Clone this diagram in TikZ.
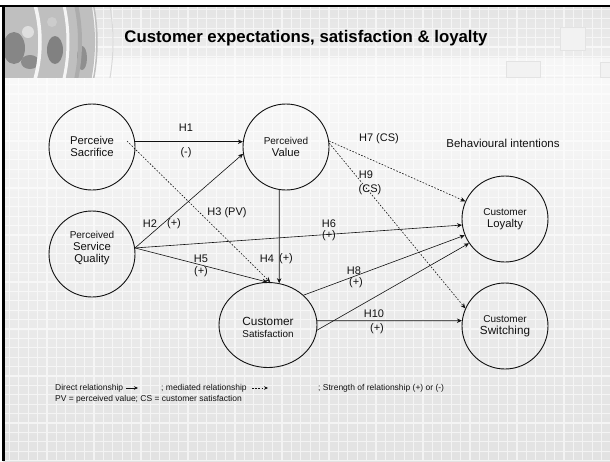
\documentclass[tikz,border=0pt]{standalone}
\usepackage{fontspec}
\setmainfont{Liberation Sans}
\usetikzlibrary{calc,arrows.meta,shapes.geometric}

\definecolor{bodytop}{HTML}{F8F8F8}
\definecolor{bodybot}{HTML}{E2E2E2}
\definecolor{headtop}{HTML}{E4E4E4}
\definecolor{headbot}{HTML}{F0F0F0}
\definecolor{ink}{HTML}{111111}

\tikzset{
  bubble/.style={circle, draw=ink, line width=0.9pt, minimum size=86pt, inner sep=0pt},
  oval/.style={ellipse, draw=ink, line width=0.9pt, minimum width=98pt, minimum height=85pt, inner sep=0pt},
  inner/.style={align=center, inner sep=0pt, text=ink},
  lbl/.style={inner sep=0pt, text=ink, font=\fontsize{11}{13}\selectfont},
  legendtext/.style={anchor=west, inner sep=0pt, text=ink, font=\fontsize{8.5}{10}\selectfont},
  direct/.style={draw=ink, line width=0.6pt, -{Stealth[length=5pt,width=4.5pt]}},
  mediated/.style={draw=ink, line width=0.6pt, dash pattern=on 1.6pt off 1.6pt, -{Stealth[length=5pt,width=4.5pt]}},
}
\newcommand{\smallline}{\fontsize{10}{12.5}\selectfont}
\newcommand{\bigline}{\fontsize{11.3}{13}\selectfont}

\begin{document}
\begin{tikzpicture}[x=1pt,y=-1pt]
\useasboundingbox (0,0) rectangle (610,461);

% ---- slide background ----
\fill[white] (0,0) rectangle (610,461);
\shade[top color=bodytop, bottom color=bodybot] (3,77) rectangle (610,461);
\shade[top color=headtop, bottom color=headbot] (3,7) rectangle (610,77);
\begin{scope}
  \clip (3,7) rectangle (610,461);
  \draw[white, opacity=0.6, line width=1.1pt] (0,0) grid[step=9.4pt] (610,461);
\end{scope}
\fill[white, opacity=0.5] (3,58) rectangle (610,77);

% faint tiles in the header
\filldraw[fill=gray!10, draw=gray!22, line width=0.6pt] (560,27) rectangle (585,50);
\filldraw[fill=gray!10, draw=gray!22, line width=0.6pt] (506,61) rectangle (540,77);
\filldraw[fill=gray!10, draw=gray!22, line width=0.6pt] (600,62) rectangle (612,77);

% header photo with arcs
\begin{scope}
  \clip (3,7) rectangle (125,77);
  \fill[gray!50] (-100,42) circle[radius=195];
  \fill[gray!75!black, opacity=0.6] (14,48) ellipse[x radius=11, y radius=16];
  \fill[gray!70!black, opacity=0.6] (55,50) ellipse[x radius=8, y radius=14];
  \fill[gray!75!black, opacity=0.5] (82,58) ellipse[x radius=5, y radius=12];
  \fill[gray!70!black, opacity=0.5] (30,62) ellipse[x radius=9, y radius=7];
  \fill[gray!25] (28,32) circle[radius=6];
  \fill[gray!40] (52,22) circle[radius=5];
  \draw[gray!8, line width=3.5pt] (-100,42) circle[radius=140];
  \draw[gray!8, line width=3pt] (-100,42) circle[radius=168];
  \draw[gray!65, line width=4pt] (-100,42) circle[radius=180];
  \draw[gray!50, line width=1.5pt] (-100,42) circle[radius=197];
  \draw[gray!30, line width=1pt] (-100,42) circle[radius=213];
\end{scope}

% frame
\draw[black, line width=2pt] (0,6) -- (610,6);
\draw[black, line width=2.5pt] (3.5,5) -- (3.5,461);

% title
\node[inner sep=0pt, font=\fontsize{16.8}{20}\bfseries\selectfont] (title) at (306,38)
  {Customer expectations, satisfaction \& loyalty};

% ---- constructs ----
\node[bubble] (ps)  at (92,147)  {};
\node[bubble] (pv)  at (286,147) {};
\node[bubble] (psq) at (92,254)  {};
\node[oval]   (cs)  at (268,325) {};
\node[bubble] (cl)  at (505,219) {};
\node[bubble] (csw) at (505,326) {};

\node[inner] (pst)  at (92,146.5)  {\bigline Perceive\\\bigline Sacrifice};
\node[inner] (pvt)  at (286,147)   {\smallline Perceived\\\bigline Value};
\node[inner] (psqt) at (92,248.5)  {\smallline Perceived\\\bigline Service\\\bigline Quality};
\node[inner] (cst)  at (268,327.5) {\fontsize{11.8}{13.5}\selectfont Customer\\\fontsize{9.9}{12}\selectfont Satisfaction};
\node[inner] (clt)  at (505,219.5) {\smallline Customer\\\bigline Loyalty};
\node[inner] (cswt) at (505,326.5) {\smallline Customer\\\fontsize{11.7}{13}\selectfont Switching};

% ---- hypotheses ----
\draw[direct] (ps.7) -- (pv.173);
\draw[direct] (psq.8) -- (pv.189);
\coordinate (h3s) at ($(ps.center)+(35,-6)$);
\draw[mediated] (h3s) -- (cs.87);
\draw[direct] (pv.261) -- (cs.75);
\draw[direct] (psq.8) -- (cs.91);
\draw[direct] (psq.8) -- (cl.188);
\draw[mediated] (pv.8) -- (cl.156);
\draw[mediated] (pv.5) -- (csw.156);
\draw[direct] (cs.40) -- (cl.202);
\draw[direct] (cs.-6) -- (cl.214);
\draw[direct] (cs.5) -- (csw.173);

\node[lbl] (h1)   at (186,128) {H1};
\node[lbl] (h1s)  at (186,153) {(-)};
\node[lbl] (h2)   at (150,224) {H2};
\node[lbl] (h2s)  at (174,224) {(+)};
\node[lbl] (h3)   at (227,213) {H3 (PV)};
\node[lbl] (h4)   at (267,259) {H4};
\node[lbl] (h4s)  at (286,259) {(+)};
\node[lbl] (h5)   at (201,259) {H5};
\node[lbl] (h5s)  at (201,272) {(+)};
\node[lbl] (h6)   at (329,224) {H6};
\node[lbl] (h6s)  at (329,236) {(+)};
\node[lbl] (h7)   at (379,139) {H7 (CS)};
\node[lbl] (h9)   at (366,175) {H9};
\node[lbl] (h9s)  at (370,190) {(CS)};
\node[lbl] (h8)   at (354,271) {H8};
\node[lbl] (h8s)  at (356,283) {(+)};
\node[lbl] (h10)  at (374,314) {H10};
\node[lbl] (h10s) at (377,329) {(+)};
\node[lbl, font=\fontsize{11.5}{13}\selectfont] (bi) at (503,143) {Behavioural intentions};

% ---- legend ----
\node[legendtext] (lg1) at (55,388) {Direct relationship};
\coordinate (da) at (126,388);
\coordinate (db) at (138,388);
\draw[direct, line width=0.5pt, -{Stealth[length=4pt,width=3.5pt]}] (da) -- (db);
\node[legendtext] (lg2) at (161,388) {; mediated relationship};
\coordinate (ma) at (252,388);
\coordinate (mb) at (268,388);
\draw[mediated, line width=0.5pt, -{Stealth[length=4pt,width=3.5pt]}] (ma) -- (mb);
\node[legendtext] (lg3) at (318,388) {; Strength of relationship (+) or (-)};
\node[legendtext] (lg4) at (55,399.5) {PV = perceived value; CS = customer satisfaction};

\end{tikzpicture}
\end{document}
